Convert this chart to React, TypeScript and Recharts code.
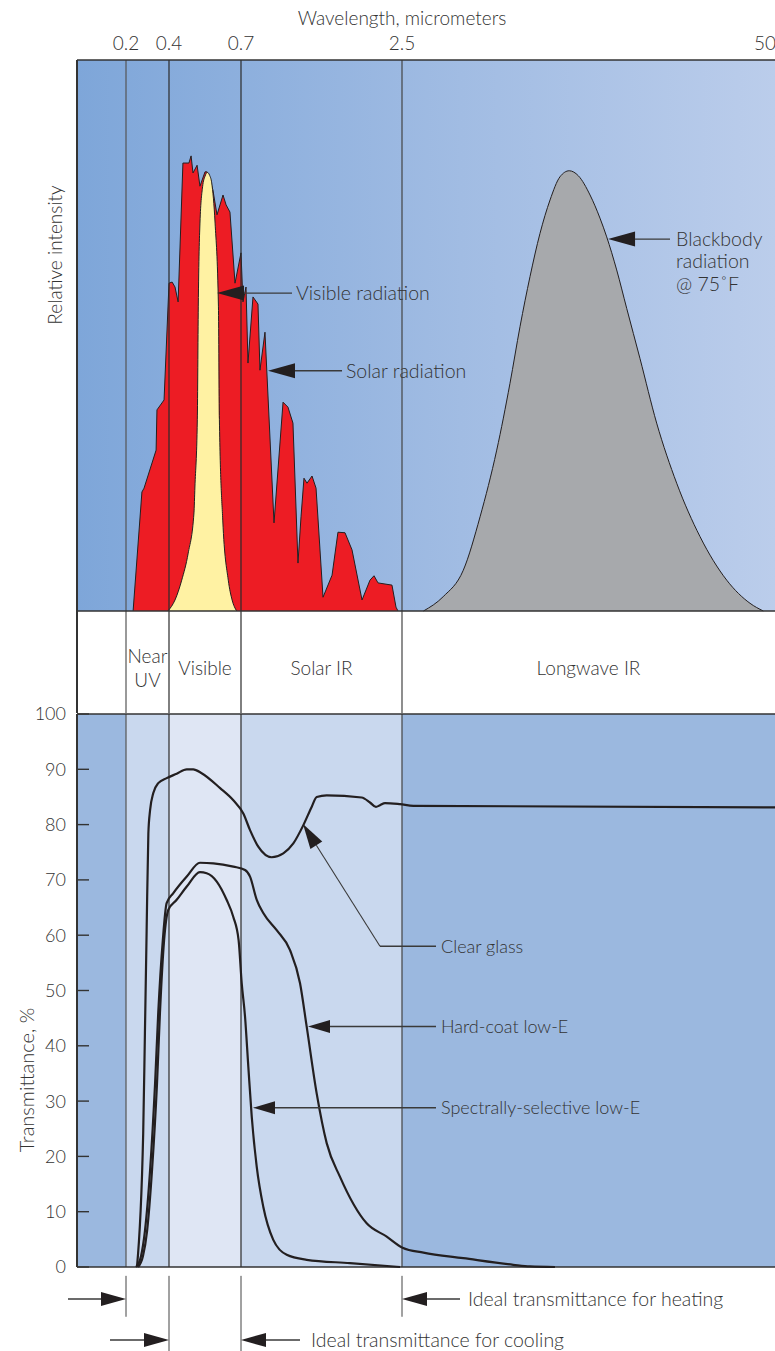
import React from 'react';
import {
  ComposedChart,
  Area,
  Line,
  XAxis,
  YAxis,
  ReferenceArea,
  ReferenceLine,
  ReferenceDot,
} from 'recharts';

// ---------- fonts / colours ----------
const FONT = "Lato, 'Open Sans', 'DejaVu Sans', sans-serif";
const FONT_WEIGHT = 300;
const TEXT_COLOR = '#333333';
const INK = '#231f20';
const POINTER = '#3a3a3a';

// ---------- wavelength axis (piecewise: linear, last segment logarithmic) ----------
const AXIS_BREAK_WL = [0.1, 0.2, 0.4, 0.7, 2.5, 50];
const AXIS_BREAK_POS = [0, 49, 92, 164, 325, 698];
const LOG_SEGMENT_START = 2.5;
const TICK_WL = [0.2, 0.4, 0.7, 2.5, 50];
const TICK_LABELS = ['0.2', '0.4', '0.7', '2.5', '50'];

function pos(w: number): number {
  const n = AXIS_BREAK_WL.length;
  for (let i = 0; i < n - 1; i++) {
    const a = AXIS_BREAK_WL[i];
    const b = AXIS_BREAK_WL[i + 1];
    if (w <= b || i === n - 2) {
      const t = a >= LOG_SEGMENT_START ? Math.log(w / a) / Math.log(b / a) : (w - a) / (b - a);
      return AXIS_BREAK_POS[i] + t * (AXIS_BREAK_POS[i + 1] - AXIS_BREAK_POS[i]);
    }
  }
  return 0;
}
const X_DOMAIN = [pos(AXIS_BREAK_WL[0]), pos(AXIS_BREAK_WL[AXIS_BREAK_WL.length - 1])];

// ---------- bands ----------
const BAND_EDGES_WL = [0.2, 0.4, 0.7, 2.5, 50];
const BAND_NAMES = [['Near', 'UV'], ['Visible'], ['Solar IR'], ['Longwave IR']];
const BOUNDARY_WL = [0.2, 0.4, 0.7, 2.5];
const BOUNDARY_COLORS = ['#555555', '#2a2a2a', '#2a2a2a', '#444444'];
const ZONE_EDGES_WL = [0.1, 0.2, 0.4, 0.7, 2.5, 50];
const ZONE_COLORS = ['#9bb8df', '#c9d8ee', '#dfe6f4', '#c9d8ee', '#9bb8df'];

// ---------- top panel: relative intensity ----------
const SOLAR_WL = [0.233, 0.274, 0.284, 0.340, 0.344, 0.377, 0.400, 0.413, 0.425, 0.438, 0.458, 0.483, 0.492, 0.500, 0.517, 0.529, 0.550, 0.558, 0.571, 0.583, 0.600, 0.625, 0.638, 0.654, 0.675, 0.700, 0.722, 0.756, 0.778, 0.834, 0.890, 0.912, 0.968, 1.069, 1.170, 1.225, 1.281, 1.337, 1.371, 1.404, 1.438, 1.494, 1.539, 1.617, 1.718, 1.784, 1.863, 1.941, 2.053, 2.142, 2.187, 2.232, 2.388, 2.433, 2.455];
const SOLAR_I = [0, 21.6, 22.3, 29.2, 36.5, 38.3, 59.5, 59.7, 58.8, 56.1, 81.3, 81.3, 82.6, 79.5, 80.9, 77.1, 79.7, 79.7, 78.2, 76.4, 71.9, 75.5, 73.7, 72.4, 59.5, 65.0, 56.1, 58.8, 45.0, 57.0, 55.7, 43.7, 50.6, 16.0, 37.9, 37.0, 34.1, 8.7, 17.1, 24.1, 23.2, 24.5, 22.3, 2.5, 6.5, 14.3, 14.2, 11.1, 2.0, 5.6, 6.4, 5.1, 4.7, 0.7, 0];

const VISIBLE_WL = [0.395, 0.425, 0.453, 0.480, 0.504, 0.508, 0.518, 0.522, 0.529, 0.540, 0.550, 0.560, 0.569, 0.578, 0.592, 0.606, 0.610, 0.624, 0.647, 0.663, 0.682];
const VISIBLE_I = [0, 2.0, 5.6, 10.5, 17.8, 22.5, 34.7, 55.2, 70.4, 77.0, 78.9, 79.6, 79.1, 77.7, 70.4, 55.2, 34.7, 16.5, 5.6, 2.0, 0];

const BLACKBODY_WL = [2.97, 3.48, 4.09, 4.68, 5.35, 5.95, 6.45, 6.99, 7.57, 8.21, 8.89, 9.58, 10.30, 11.32, 12.26, 12.94, 14.02, 15.20, 16.91, 19.33, 22.70, 27.38, 33.93, 40.91, 45.51];
const BLACKBODY_I = [0, 2.6, 7.4, 17.1, 29.2, 41.3, 51.6, 60.7, 68.5, 74.6, 78.8, 79.9, 79.0, 75.5, 71.3, 67.9, 61.9, 54.9, 45.8, 34.1, 23.2, 13.5, 5.6, 1.4, 0];

// ---------- bottom panel: transmittance % ----------
const CLEAR_WL = [0.251, 0.280, 0.288, 0.296, 0.304, 0.312, 0.327, 0.350, 0.389, 0.432, 0.474, 0.501, 0.536, 0.613, 0.668, 0.726, 0.801, 0.893, 1.043, 1.173, 1.285, 1.397, 1.490, 1.546, 1.658, 2.049, 2.142, 2.209, 2.254, 2.310, 2.478, 2.74, 50];
const CLEAR_T = [0, 24.2, 42.3, 60.9, 78.4, 82.6, 85.7, 87.5, 88.4, 89.2, 90.0, 90.0, 89.3, 86.6, 84.4, 82.0, 79.0, 76.0, 74.1, 74.8, 76.6, 79.9, 83.2, 85.0, 85.3, 84.9, 84.0, 83.2, 83.5, 83.9, 83.7, 83.4, 83.1];

const HARDCOAT_WL = [0.247, 0.270, 0.288, 0.312, 0.335, 0.350, 0.371, 0.389, 0.418, 0.474, 0.529, 0.585, 0.668, 0.745, 0.801, 0.876, 0.949, 1.099, 1.248, 1.360, 1.434, 1.546, 1.658, 1.807, 2.105, 2.329, 2.51, 2.97, 4.09, 6.11, 6.99, 8.54];
const HARDCOAT_T = [0, 2.0, 6.5, 17.5, 33.0, 46.0, 59.0, 65.8, 67.6, 70.6, 73.1, 73.0, 72.4, 71.8, 70.6, 66.4, 64.0, 60.9, 57.3, 51.3, 43.5, 31.4, 22.4, 16.3, 7.9, 5.5, 3.5, 2.6, 1.6, 0.4, 0.1, 0];

const SPECTRAL_WL = [0.256, 0.279, 0.298, 0.321, 0.344, 0.358, 0.377, 0.397, 0.432, 0.474, 0.529, 0.557, 0.599, 0.640, 0.668, 0.690, 0.708, 0.745, 0.782, 0.820, 0.876, 0.949, 1.061, 1.211, 1.434, 1.918, 2.478];
const SPECTRAL_T = [0, 2.0, 6.5, 17.5, 33.0, 46.0, 59.0, 64.6, 66.4, 68.8, 71.4, 71.2, 69.7, 66.4, 63.3, 59.1, 51.3, 45.3, 36.2, 27.2, 18.1, 10.9, 4.9, 2.2, 1.3, 0.7, 0];

const TRANS_TICKS = [0, 10, 20, 30, 40, 50, 60, 70, 80, 90, 100];

// ---------- annotations (data coordinates) ----------
const TOP_CALLOUT_TEXT = [['Visible radiation'], ['Solar radiation'], ['Blackbody', 'radiation', '@ 75˚F']];
const TOP_CALLOUT_WL = [0.600, 1.002, 13.08];
const TOP_CALLOUT_VAL = [57.7, 43.6, 67.5];
const TOP_CALLOUT_LEN = [75, 74, 62];

const LOWE_CALLOUT_TEXT = [['Hard-coat low-E'], ['Spectrally-selective low-E']];
const LOWE_CALLOUT_WL = [1.449, 0.834];
const LOWE_CALLOUT_VAL = [43.5, 28.8];
const LOWE_CALLOUT_LEN = [128, 183];

const CLEAR_CALLOUT_TEXT = 'Clear glass';
const CLEAR_CALLOUT_TIP = { wl: 1.393, value: 80.1 };
const CLEAR_CALLOUT_ELBOW = { wl: 2.254, value: 58.0 };

const IDEAL_TEXT = ['', '', 'Ideal transmittance for heating', 'Ideal transmittance for cooling'];
const IDEAL_WL = [0.2, 0.4, 2.5, 0.7];
const IDEAL_VAL = [-5.8, -13.2, -5.8, -13.2];
const IDEAL_DIR: (1 | -1)[] = [1, 1, -1, -1];
const IDEAL_LEN = [58, 59, 58, 59];
const IDEAL_GAP = [0, 0, 8, 11];

// ---------- domains ----------
const TOP_DOMAIN = [-18.51, 100];
const BOTTOM_DOMAIN = [-15.19, 100];

// ---------- build tables ----------
type Series = { key: string; wl: number[]; val: number[] };
function mergeSeries(series: Series[]) {
  const rows: any[] = [];
  series.forEach((s) => s.wl.forEach((w, i) => rows.push({ x: pos(w), [s.key]: s.val[i] })));
  rows.sort((a, b) => a.x - b.x);
  return rows;
}
const topData = mergeSeries([
  { key: 'solar', wl: SOLAR_WL, val: SOLAR_I },
  { key: 'visible', wl: VISIBLE_WL, val: VISIBLE_I },
  { key: 'blackbody', wl: BLACKBODY_WL, val: BLACKBODY_I },
]);
const bottomData = mergeSeries([
  { key: 'clear', wl: CLEAR_WL, val: CLEAR_T },
  { key: 'hardcoat', wl: HARDCOAT_WL, val: HARDCOAT_T },
  { key: 'spectral', wl: SPECTRAL_WL, val: SPECTRAL_T },
]);

// ---------- shapes ----------
function arrowShape(dir: 1 | -1, length: number, head: number, half: number, lines: string[], gap: number, fontSize = 19, lineH = 22.5) {
  return (p: any) => {
    const { cx, cy } = p;
    if (cx == null || cy == null) return <g />;
    const tailX = cx - dir * length;
    const baseX = cx - dir * head;
    return (
      <g>
        <line x1={tailX} y1={cy} x2={baseX} y2={cy} stroke={POINTER} strokeWidth={1.4} />
        <polygon points={`${cx},${cy} ${baseX},${cy - half} ${baseX},${cy + half}`} fill={INK} />
        {lines
          .filter((t) => t)
          .map((t, i) => (
            <text
              key={i}
              x={tailX + gap}
              y={cy + i * lineH}
              dy="0.35em"
              fontSize={fontSize}
              fontWeight={FONT_WEIGHT}
              fill={TEXT_COLOR}
              fontFamily={FONT}
            >
              {t}
            </text>
          ))}
      </g>
    );
  };
}

const clearGlassShape = (p: any) => {
  const { x1, y1, x2, y2 } = p;
  if (x1 == null) return <g />;
  const dx = x2 - x1;
  const dy = y2 - y1;
  const L = Math.hypot(dx, dy) || 1;
  const ux = dx / L;
  const uy = dy / L;
  const head = 25;
  const half = 7;
  const bx = x2 - ux * head;
  const by = y2 - uy * head;
  const nx = -uy;
  const ny = ux;
  return (
    <g>
      <line x1={x1} y1={y1} x2={bx} y2={by} stroke={POINTER} strokeWidth={1.1} />
      <line x1={x1} y1={y1} x2={x1 + 56} y2={y1} stroke={POINTER} strokeWidth={1.4} />
      <polygon
        points={`${x2},${y2} ${bx + nx * half},${by + ny * half} ${bx - nx * half},${by - ny * half}`}
        fill={INK}
      />
      <text x={x1 + 61} y={y1} dy="0.35em" fontSize={18} fontWeight={FONT_WEIGHT} fill={TEXT_COLOR} fontFamily={FONT}>
        {CLEAR_CALLOUT_TEXT}
      </text>
    </g>
  );
};

const bandLabel = (lines: string[]) => (p: any) => {
  const vb = p.viewBox || {};
  const cx = vb.x + vb.width / 2;
  const cy = vb.y + vb.height / 2 + 6;
  const lh = 24;
  const start = cy - ((lines.length - 1) * lh) / 2;
  return (
    <text textAnchor="middle" fontSize={19} fontWeight={FONT_WEIGHT} fill={TEXT_COLOR} fontFamily={FONT}>
      {lines.map((t, i) => (
        <tspan key={i} x={cx} y={start + i * lh} dy="0.35em">
          {t}
        </tspan>
      ))}
    </text>
  );
};

const TopTick = (p: any) => {
  const { x, y, payload, index } = p;
  const i = TICK_WL.findIndex((w) => Math.abs(pos(w) - payload.value) < 1e-6);
  const label = i >= 0 ? TICK_LABELS[i] : '';
  const last = i === TICK_WL.length - 1 || index === TICK_WL.length - 1;
  return (
    <text
      x={last ? x + 1 : x}
      y={y - 10}
      textAnchor={last ? 'end' : 'middle'}
      fontSize={19}
      fontWeight={FONT_WEIGHT}
      fill={TEXT_COLOR}
      fontFamily={FONT}
    >
      {label}
    </text>
  );
};

const TransTick = (p: any) => {
  const { x, y, payload } = p;
  return (
    <text x={x - 11} y={y} dy="0.36em" textAnchor="end" fontSize={18} fontWeight={FONT_WEIGHT} fill={TEXT_COLOR} fontFamily={FONT}>
      {payload.value}
    </text>
  );
};

const titleLabel = (p: any) => {
  const vb = p.viewBox || { x: 0, y: 0 };
  return (
    <text x={vb.x + pos(2.5)} y={vb.y + 25} textAnchor="middle" fontSize={19} fontWeight={FONT_WEIGHT} fill={TEXT_COLOR} fontFamily={FONT}>
      Wavelength, micrometers
    </text>
  );
};

const rotatedLabel = (text: string, dxFromRight: number, dyFromTop: number, fontSize: number) => (p: any) => {
  const vb = p.viewBox || { x: 0, y: 0, width: 0 };
  const x = vb.x + vb.width - dxFromRight;
  const y = vb.y + dyFromTop;
  return (
    <text
      x={x}
      y={y}
      transform={`rotate(-90 ${x} ${y})`}
      textAnchor="middle"
      dy="0.35em"
      fontSize={fontSize}
      fontWeight={FONT_WEIGHT}
      fill={TEXT_COLOR}
      fontFamily={FONT}
    >
      {text}
    </text>
  );
};

export default function App() {
  const zones = ZONE_COLORS.map((c, i) => ({ x1: pos(ZONE_EDGES_WL[i]), x2: pos(ZONE_EDGES_WL[i + 1]), c }));
  return (
    <div style={{ position: 'absolute', left: 0, top: 0, width: 775, height: 1351, background: '#fff', overflow: 'hidden' }}>
      {/* ---------- top panel ---------- */}
      <div style={{ position: 'absolute', left: 0, top: 0 }}>
        <ComposedChart width={775} height={713} data={topData} margin={{ top: 0, right: 0, bottom: 0, left: 0 }}>
          <defs>
            <linearGradient id="skyGrad" x1="0" y1="0" x2="1" y2="0">
              <stop offset="0%" stopColor="#7ea6d9" />
              <stop offset="55%" stopColor="#a1bce3" />
              <stop offset="100%" stopColor="#bbcdeb" />
            </linearGradient>
          </defs>
          <XAxis
            type="number"
            dataKey="x"
            domain={X_DOMAIN}
            orientation="top"
            height={60}
            ticks={TICK_WL.map(pos)}
            tick={TopTick}
            tickSize={0}
            tickMargin={0}
            axisLine={false}
            tickLine={false}
            interval={0}
            allowDataOverflow
            label={titleLabel}
          />
          <YAxis
            type="number"
            domain={TOP_DOMAIN}
            width={77}
            tick={false}
            axisLine={false}
            tickLine={false}
            allowDataOverflow
            label={rotatedLabel('Relative intensity', 22, 195, 19)}
          />
          <ReferenceArea x1={X_DOMAIN[0]} x2={X_DOMAIN[1]} y1={0} y2={100} fill="url(#skyGrad)" fillOpacity={1} stroke="none" />
          {BAND_NAMES.map((lines, i) => (
            <ReferenceArea
              key={'band' + i}
              x1={pos(BAND_EDGES_WL[i])}
              x2={pos(BAND_EDGES_WL[i + 1])}
              y1={TOP_DOMAIN[0]}
              y2={0}
              fill="#ffffff"
              fillOpacity={1}
              stroke="none"
              label={bandLabel(lines)}
            />
          ))}
          <Area type="linear" dataKey="solar" baseValue={0} stroke={INK} strokeWidth={1} fill="#ed1c24" fillOpacity={1} connectNulls dot={false} activeDot={false} isAnimationActive={false} />
          <Area type="monotone" dataKey="visible" baseValue={0} stroke={INK} strokeWidth={1} fill="#fff2a3" fillOpacity={1} connectNulls dot={false} activeDot={false} isAnimationActive={false} />
          <Area type="monotone" dataKey="blackbody" baseValue={0} stroke={INK} strokeWidth={1} fill="#a7a9ac" fillOpacity={1} connectNulls dot={false} activeDot={false} isAnimationActive={false} />
          {BOUNDARY_WL.map((w, i) => (
            <ReferenceLine key={'bl' + i} x={pos(w)} stroke={BOUNDARY_COLORS[i]} strokeWidth={1.2} />
          ))}
          <ReferenceLine x={X_DOMAIN[0]} stroke="#333" strokeWidth={2} />
          <ReferenceLine y={100} stroke="#333" strokeWidth={1.6} />
          <ReferenceLine y={0} stroke="#333" strokeWidth={1.6} />
          {TOP_CALLOUT_TEXT.map((lines, i) => (
            <ReferenceDot
              key={'tc' + i}
              x={pos(TOP_CALLOUT_WL[i])}
              y={TOP_CALLOUT_VAL[i]}
              r={0}
              shape={arrowShape(-1, TOP_CALLOUT_LEN[i], 27, 7.5, lines, i === 2 ? 6 : 4, 19.5)}
            />
          ))}
        </ComposedChart>
      </div>

      {/* ---------- bottom panel ---------- */}
      <div style={{ position: 'absolute', left: 0, top: 700 }}>
        <ComposedChart width={775} height={651} data={bottomData} margin={{ top: 14, right: 0, bottom: 0, left: 0 }}>
          <XAxis type="number" dataKey="x" domain={X_DOMAIN} hide allowDataOverflow />
          <YAxis
            type="number"
            domain={BOTTOM_DOMAIN}
            ticks={TRANS_TICKS}
            width={77}
            tick={TransTick}
            tickSize={0}
            tickMargin={0}
            axisLine={false}
            tickLine={false}
            interval={0}
            allowDataOverflow
            label={rotatedLabel('Transmittance, %', 50, 366, 20)}
          />
          {zones.map((z, i) => (
            <ReferenceArea key={'z' + i} x1={z.x1} x2={z.x2} y1={0} y2={100} fill={z.c} fillOpacity={1} stroke="none" />
          ))}
          {BOUNDARY_WL.map((w, i) => (
            <ReferenceLine
              key={'bb' + i}
              segment={[{ x: pos(w), y: 0 }, { x: pos(w), y: 100 }]}
              stroke={BOUNDARY_COLORS[i]}
              strokeWidth={1.2}
            />
          ))}
          {BOUNDARY_WL.map((w, i) => (
            <ReferenceLine
              key={'bt' + i}
              segment={[
                { x: pos(w), y: -1.6 },
                { x: pos(w), y: i === 0 || i === 3 ? -9.0 : BOTTOM_DOMAIN[0] },
              ]}
              stroke="#444"
              strokeWidth={1}
            />
          ))}
          {TRANS_TICKS.map((t) => (
            <ReferenceLine key={'tk' + t} segment={[{ x: X_DOMAIN[0], y: t }, { x: X_DOMAIN[0] + 12, y: t }]} stroke="#333" strokeWidth={1.4} />
          ))}
          <ReferenceLine segment={[{ x: X_DOMAIN[0], y: 0 }, { x: X_DOMAIN[0], y: 100 }]} stroke="#333" strokeWidth={2} />
          <ReferenceLine y={100} stroke="#333" strokeWidth={1.6} />
          <ReferenceLine y={0} stroke="#333" strokeWidth={1.6} />
          <Line type="monotone" dataKey="clear" stroke={INK} strokeWidth={2.2} connectNulls dot={false} activeDot={false} isAnimationActive={false} />
          <Line type="monotone" dataKey="hardcoat" stroke={INK} strokeWidth={2.2} connectNulls dot={false} activeDot={false} isAnimationActive={false} />
          <Line type="monotone" dataKey="spectral" stroke={INK} strokeWidth={2.2} connectNulls dot={false} activeDot={false} isAnimationActive={false} />
          <ReferenceLine
            segment={[
              { x: pos(CLEAR_CALLOUT_ELBOW.wl), y: CLEAR_CALLOUT_ELBOW.value },
              { x: pos(CLEAR_CALLOUT_TIP.wl), y: CLEAR_CALLOUT_TIP.value },
            ]}
            shape={clearGlassShape}
          />
          {LOWE_CALLOUT_TEXT.map((lines, i) => (
            <ReferenceDot
              key={'lc' + i}
              x={pos(LOWE_CALLOUT_WL[i])}
              y={LOWE_CALLOUT_VAL[i]}
              r={0}
              shape={arrowShape(-1, LOWE_CALLOUT_LEN[i], 22, 6.5, lines, 5, 18)}
            />
          ))}
          {IDEAL_TEXT.map((t, i) => (
            <ReferenceDot
              key={'id' + i}
              x={pos(IDEAL_WL[i])}
              y={IDEAL_VAL[i]}
              r={0}
              shape={arrowShape(IDEAL_DIR[i], IDEAL_LEN[i], 25, 7, [t], IDEAL_GAP[i], 19.5)}
            />
          ))}
        </ComposedChart>
      </div>
    </div>
  );
}
